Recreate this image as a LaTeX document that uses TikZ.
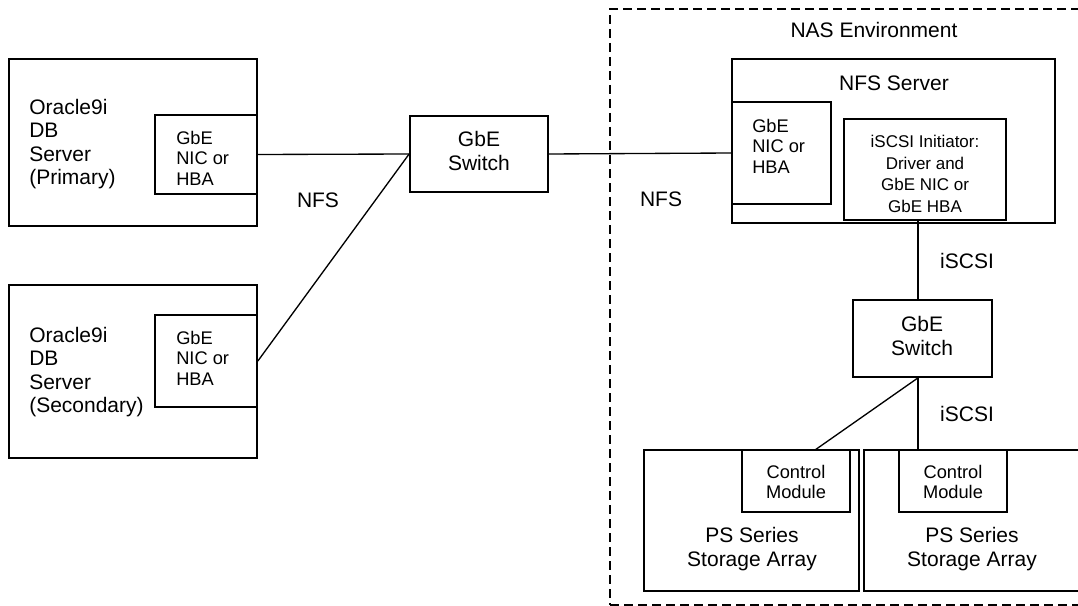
\documentclass[tikz,border=0pt]{standalone}
\usepackage{fontspec}
\setmainfont{Liberation Sans}
\usetikzlibrary{positioning,fit}
\newcommand{\lbtxt}{\fontsize{15.75}{17.4}\selectfont}
\newcommand{\smtxt}{\fontsize{13.7}{15.4}\selectfont}
\newcommand{\tntxt}{\fontsize{12.75}{16.2}\selectfont}
\tikzset{
  box/.style={draw, line width=1.3pt, inner sep=0pt},
  envbox/.style={draw, line width=1.4pt, dash pattern=on 7pt off 3.5pt, inner sep=0pt},
  wire/.style={line width=1pt},
  txt/.style={inner sep=0pt, font=\lbtxt, align=center},
  smtxt/.style={inner sep=0pt, font=\smtxt, align=left},
}

\begin{document}
\begin{tikzpicture}[x=0.75pt,y=-0.75pt]
\useasboundingbox (0,0) rectangle (1078,606);
\clip (0,0) rectangle (1078,606);

% database servers
\node[box, fit={(9,59) (257,226)}] (prim) {};
\node[box, fit={(155,115) (257,194)}] (primnic) {};
\draw(29,144) node[txt, anchor=west, align=left] (primlbl) {Oracle9i\\DB\\Server\\(Primary)};
\draw(176,158) node[smtxt, anchor=west] (primniclbl) {GbE\\NIC or\\HBA};

\node[box, fit={(9,285) (257,458)}] (sec) {};
\node[box, fit={(155,315) (257,407)}] (secnic) {};
\draw(29,372) node[txt, anchor=west, align=left] (seclbl) {Oracle9i\\DB\\Server\\(Secondary)};
\draw(176,358) node[smtxt, anchor=west] (secniclbl) {GbE\\NIC or\\HBA};

% front switch
\node[box, fit={(410,116) (548,192)}] (sw1) {};
\draw(479,151) node[txt] (sw1lbl) {GbE\\Switch};

% NAS side
\node[envbox, fit={(610,9) (1100,605)}] (env) {};
\draw(874,30) node[txt] (envlbl) {NAS Environment};

\node[box, fit={(732,59) (1055,223)}] (nfs) {};
\draw(894,83) node[txt] (nfslbl) {NFS Server};
\node[box, fit={(732,102) (831,204)}] (nfsnic) {};
\draw(752,146) node[smtxt, anchor=west] (nfsniclbl) {GbE\\NIC or\\HBA};
\node[box, fit={(844,119) (1006,220)}] (init) {};
\draw(925,174) node[inner sep=0pt, font=\tntxt, align=center] (initlbl) {iSCSI Initiator:\\Driver and\\GbE NIC or\\GbE HBA};

\node[box, fit={(853,300) (992,377)}] (sw2) {};
\draw(922,336) node[txt] (sw2lbl) {GbE\\Switch};

% storage arrays
\node[box, fit={(644,450) (859,591)}] (arr1) {};
\node[box, fit={(742,450) (850,512)}] (cm1) {};
\draw(796,482) node[txt, font=\smtxt] (cm1lbl) {Control\\Module};
\draw(752,549) node[txt] (arr1lbl) {PS Series\\Storage Array};

\node[box, fit={(864,450) (1100,591)}] (arr2) {};
\node[box, fit={(899,450) (1007,512)}] (cm2) {};
\draw(953,482) node[txt, font=\smtxt] (cm2lbl) {Control\\Module};
\draw(972,549) node[txt] (arr2lbl) {PS Series\\Storage Array};

% links
\coordinate (bus) at (918,0);
\coordinate (tap1) at (815,450);
\draw[wire] (primnic.east) -- (sw1.west);
\draw[wire] (secnic.east) -- (sw1.west);
\draw[wire] (sw1.east) -- (nfsnic.west);
\draw[wire] (init.south -| bus) -- (sw2.north -| bus);
\draw[wire] (sw2.south -| bus) -- (tap1);
\draw[wire] (sw2.south -| bus) -- (cm2.north -| bus);

\draw(318,200) node[txt] (nfsa) {NFS};
\draw(661,199) node[txt] (nfsb) {NFS};
\draw(967,261) node[txt] (iscsia) {iSCSI};
\draw(967,414) node[txt] (iscsib) {iSCSI};
\end{tikzpicture}
\end{document}
